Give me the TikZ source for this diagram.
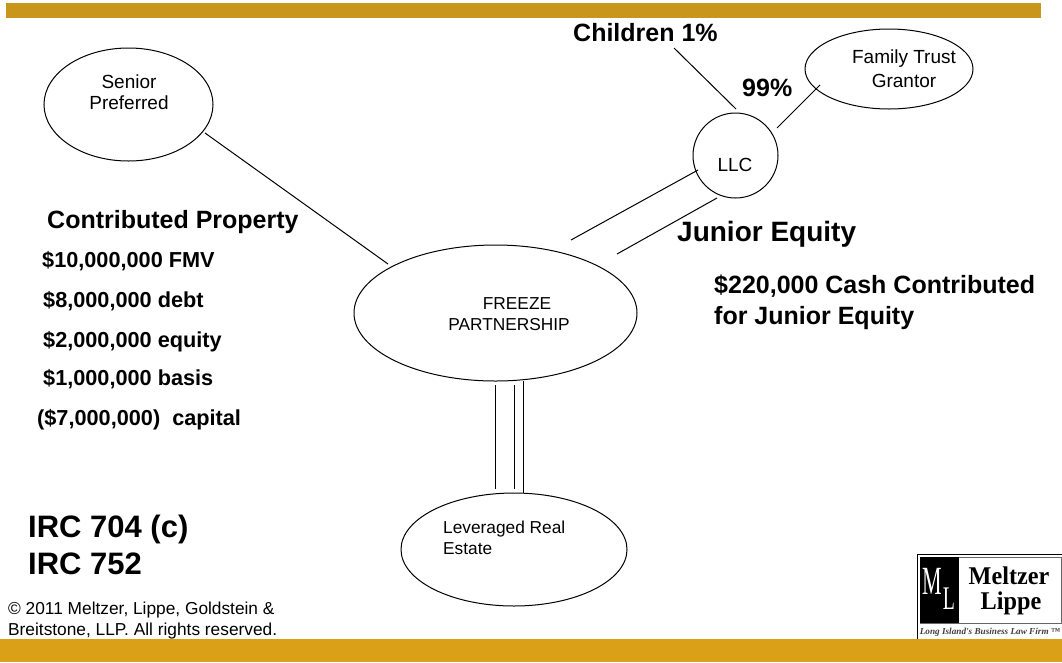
\documentclass[tikz,border=0pt]{standalone}
\usepackage{fontspec}
\setmainfont{Liberation Sans}
\newfontfamily\logofont{Liberation Serif}
\usetikzlibrary{shapes.geometric}
\definecolor{topgold}{HTML}{C8961A}
\definecolor{lowgold}{HTML}{DAA017}
\tikzset{
	party/.style={draw,ellipse,line width=1pt,inner sep=0pt},
	partytext/.style={inner sep=0pt,align=center,font=\fontsize{19}{24}\selectfont},
	biglabel/.style={anchor=west,inner sep=0pt,align=left,font=\bfseries\fontsize{25}{31}\selectfont},
	midlabel/.style={anchor=west,inner sep=0pt,font=\bfseries\fontsize{21.7}{26}\selectfont},
	link/.style={line width=1pt}
}
\begin{document}
\begin{tikzpicture}[x=1pt,y=-1pt]
	\useasboundingbox (0,0) rectangle (1062,662);
	% bars
	\fill[topgold] (6,3) rectangle (1041,18);
	\fill[lowgold] (0,639) rectangle (1062,662);
	% parties
	\node[party,minimum width=169pt,minimum height=113pt] (senior) at (128.5,104.5) {};
	\node[partytext,font=\fontsize{19}{21}\selectfont] (seniorText) at (129,92) {Senior\\Preferred};
	\node[party,minimum width=168pt,minimum height=80pt] (trust) at (889,69) {};
	\node[partytext] (trustText) at (904,69) {Family Trust\\Grantor};
	\node[party,minimum width=85pt,minimum height=85pt] (llc) at (735.5,155.5) {};
	\node[partytext] (llcText) at (735,165) {LLC};
	\node[party,minimum width=283pt,minimum height=136pt] (freeze) at (495.5,313) {};
	\node[partytext,font=\fontsize{17.3}{21}\selectfont] (freezeText) at (509,314) {\hspace*{16pt}FREEZE\\PARTNERSHIP};
	\node[party,minimum width=226pt,minimum height=113pt] (estate) at (514,549.5) {};
	\node[partytext,anchor=west,align=left,font=\fontsize{17.3}{20.5}\selectfont] (estateText) at (443,538) {Leveraged Real\\Estate};
	% free ends
	\coordinate (seniorEnd) at (205,133);
	\coordinate (freezeNW) at (388,264);
	\coordinate (childEnd) at (674,48);
	\coordinate (llcTop) at (736,109);
	\coordinate (trustEnd) at (820,85);
	\coordinate (llcRight) at (777,128);
	\coordinate (llcA) at (698,170);
	\coordinate (llcB) at (717,198);
	\coordinate (freezeA) at (571,240);
	\coordinate (freezeB) at (617,254);
	\coordinate (freezeC) at (495,385);
	\coordinate (estateC) at (495,489);
	\coordinate (freezeD) at (514,385);
	\coordinate (estateD) at (514,489);
	\coordinate (freezeE) at (523,381);
	\coordinate (estateE) at (523,493);
	% connectors
	\draw[link] (seniorEnd) -- (freezeNW);
	\draw[link] (childEnd) -- (llcTop);
	\draw[link] (trustEnd) -- (llcRight);
	\draw[link] (llcA) -- (freezeA);
	\draw[link] (llcB) -- (freezeB);
	\draw[link] (freezeC) -- (estateC);
	\draw[link] (freezeD) -- (estateD);
	\draw[link] (freezeE) -- (estateE);
	% labels
	\node[biglabel] (children) at (573,33) {Children 1\%};
	\node[biglabel] (pct) at (742,88) {99\%};
	\node[biglabel,font=\bfseries\fontsize{28}{32}\selectfont] (junior) at (677,234) {Junior Equity};
	\node[biglabel] (cash) at (714,302.5) {\$220,000 Cash Contributed\\for Junior Equity};
	\node[biglabel] (contrib) at (47,222) {Contributed Property};
	\node[midlabel] (fmv) at (42,261) {\$10,000,000 FMV};
	\node[midlabel] (debt) at (43,301) {\$8,000,000 debt};
	\node[midlabel] (equity) at (43,342) {\$2,000,000 equity};
	\node[midlabel] (basis) at (43,379) {\$1,000,000 basis};
	\node[midlabel] (capital) at (37,420) {(\$7,000,000)\ \ capital};
	\node[biglabel,font=\bfseries\fontsize{31}{37}\selectfont] (irc) at (28,545) {IRC 704 (c)\\IRC 752};
	\node[anchor=west,inner sep=0pt,align=left,font=\fontsize{17.3}{21}\selectfont] (copy) at (8,621) {© 2011 Meltzer, Lippe, Goldstein \&\\Breitstone, LLP. All rights reserved.};
	% logo
	\draw[line width=1pt] (917,639) -- (917,554) -- (1062,554);
	\draw[line width=1pt,draw=black!60] (920,557) rectangle (1061,623);
	\fill (920,557) rectangle (959,623);
	\node[inner sep=0pt,text=white,font=\logofont\fontsize{40}{40}\selectfont] (logoM) at (932.5,581) {\scalebox{.55}[1]{M}};
	\node[inner sep=0pt,text=white,font=\logofont\fontsize{33}{33}\selectfont] (logoL) at (949,599) {\scalebox{.6}[1]{L}};
	\node[inner sep=0pt,font=\logofont\bfseries\fontsize{25.5}{25}\selectfont] (logoMeltzer) at (1009,576) {\scalebox{.95}[1]{Meltzer}};
	\node[inner sep=0pt,font=\logofont\bfseries\fontsize{25.5}{25}\selectfont] (logoLippe) at (1011,603) {\scalebox{.95}[1]{Lippe}};
	\node[inner sep=0pt,text=black!75,font=\logofont\itshape\bfseries\fontsize{9.2}{10}\selectfont] (logoTag) at (990,632) {Long Island's Business Law Firm ™};
\end{tikzpicture}
\end{document}
